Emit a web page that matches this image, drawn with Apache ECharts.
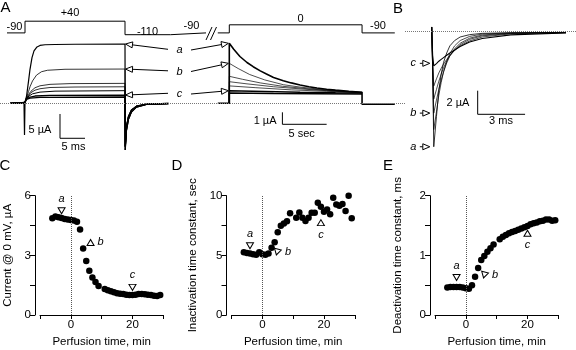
<!DOCTYPE html>
<html>
<head>
<meta charset="utf-8">
<script src="https://cdn.jsdelivr.net/npm/echarts@6/dist/echarts.min.js"></script>
<style>
  html, body { margin: 0; padding: 0; background: #fff; }
  #chart { width: 576px; height: 350px; }
</style>
</head>
<body>
<div id="chart"></div>
<script>
var FONT = '"Liberation Sans", Arial, Helvetica, sans-serif'

// ---------- panels C, D, E : values vs perfusion time (min)
var perfTime = [-6, -5, -4, -3, -2, -1, 0, 1, 2, 3, 4, 5, 6, 7, 8, 9, 11, 12, 13, 14, 15, 16, 17, 18, 19, 20, 21, 22, 23, 24, 25, 26, 27, 28, 29]
var currentC = [4.86, 4.95, 4.92, 4.88, 4.83, 4.8, 4.78, 4.75, 4.69, 4.3, 3.35, 2.71, 2.23, 1.88, 1.66, 1.46, 1.31, 1.25, 1.2, 1.15, 1.1, 1.07, 1.05, 1.02, 1.0, 1.0, 1.02, 1.05, 1.05, 1.04, 1.02, 1.0, 0.97, 0.95, 1.0]
var tauInactD = [5.25, 5.2, 5.15, 5.1, 5.05, 5.25, 5.1, 5.05, 5.15, 5.64, 6.09, 6.93, 7.49, 7.68, 7.85, 8.52, 8.16, 8.6, 8.16, 7.88, 8.16, 8.58, 8.58, 9.41, 9.08, 8.66, 8.85, 8.44, 9.83, 9.27, 9.16, 9.3, 8.72, 10.0, 8.1]
var tauDeactE = [0.46, 0.47, 0.47, 0.47, 0.47, 0.46, 0.45, 0.44, 0.5, 0.64, 0.79, 0.92, 0.99, 1.06, 1.12, 1.18, 1.27, 1.31, 1.34, 1.37, 1.39, 1.41, 1.43, 1.45, 1.47, 1.49, 1.52, 1.54, 1.55, 1.57, 1.58, 1.6, 1.6, 1.58, 1.59]

// open triangles marking the traces a, b, c
var markNames = ['a', 'b', 'c']
var markC = [[-3, 5.24], [6.4, 3.65], [20, 1.39]]
var markD = [[-4, 5.8], [4.8, 5.28], [19, 7.74]]
var markE = [[-3, 0.63], [6, 0.67], [20, 1.37]]

var xTickLabels = [0, 20]
var yTickLabelsC = [0, 3, 6]
var yTickLabelsD = [0, 5, 10]
var yTickLabelsE = [0, 1, 2]

// ---------- panel A, first part: time (ms), current (uA)
var riseA1a = [[-3, 0], [-0.2, 0], [-0.1, -6.5], [0, 0.3], [0.3, 1.4], [0.7, 4.5], [1, 7.0], [1.4, 9.4], [1.8, 10.8], [2.4, 11.6], [3, 11.9], [4, 12.05], [6, 12.1], [10, 12.15], [20, 12.2]]
var riseA1b = [[-3, 0], [0, 0.2], [0.3, 1.2], [0.7, 2.4], [1, 3.4], [1.5, 4.6], [2.3, 5.8], [3.3, 6.5], [4.5, 6.8], [8, 7.0], [20, 7.05]]
var riseA1d = [[-3, 0], [0, 0.2], [0.3, 1.1], [0.7, 1.8], [1.2, 2.5], [2, 3.2], [3, 3.6], [5, 3.9], [9, 4.05], [20, 4.1]]
var riseA1e = [[-3, 0], [0, 0.2], [0.3, 1.0], [0.7, 1.6], [1.2, 2.2], [2, 2.7], [3, 3.0], [5, 3.25], [10, 3.35], [20, 3.4]]
var riseA1f = [[-3, 0], [0, 0.2], [0.3, 1.0], [0.8, 1.5], [1.5, 1.95], [3, 2.3], [6, 2.5], [20, 2.6]]
var riseA1c = [[-3, 0], [0, 0.2], [0.3, 0.9], [0.8, 1.2], [2, 1.5], [5, 1.65], [20, 1.7]]
var riseA1g = [[-3, 0], [0, 0.2], [0.3, 0.8], [1, 1.05], [3, 1.22], [20, 1.3]]
var tailDeep = [[20.05, -9.6], [20.3, -5.6], [20.7, -3.3], [21.3, -1.8], [22.3, -0.8], [24.3, -0.25], [28.7, -0.05]]
var tailShallow = [[20.05, -8.9], [20.3, -4.8], [20.7, -2.7], [21.3, -1.4], [22.3, -0.6], [24.3, -0.18], [28.7, -0.04]]

// ---------- panel A, second part: time (s), current (uA)
var decayA2a = [[-1.3, 0], [0, 0], [0, 5.0], [0.5, 4.5], [1.2, 3.9], [2, 3.4], [2.7, 3.05], [3.5, 2.7], [4.2, 2.44], [5, 2.15], [6.1, 1.88], [7, 1.7], [8, 1.53], [9, 1.38], [9.9, 1.27], [11, 1.17], [12, 1.1], [13.5, 1.0], [15, 0.92], [15, -0.08], [18.7, -0.08]]
var decayA2b = [[0, 0], [0, 3.33], [1, 2.9], [2.3, 2.4], [4, 1.95], [6.1, 1.55], [8, 1.35], [9.9, 1.2], [12, 1.05], [15, 0.92]]
var decayA2d = [[0, 0], [0, 2.25], [1.5, 2.0], [3.5, 1.7], [6, 1.42], [9, 1.2], [12, 1.03], [15, 0.9]]
var decayA2e = [[0, 0], [0, 1.8], [2, 1.62], [5, 1.38], [8, 1.2], [11, 1.05], [15, 0.9]]
var decayA2f = [[0, 0], [0, 1.45], [3, 1.3], [7, 1.12], [11, 1.0], [15, 0.88]]
var decayA2c = [[0, 0], [0, 1.05], [4, 0.98], [8, 0.92], [12, 0.87], [15, 0.85]]
var decayA2g = [[0, 0], [0, 0.85], [5, 0.82], [10, 0.8], [15, 0.78]]

// ---------- voltage protocol (mV)
var protoA1 = [[-3.6, -90], [0, -90], [0, 40], [20, 40], [20, -110], [29.1, -110], [29.1, -90], [36.2, -90]]
var protoA2 = [[-1.3, -90], [0, -90], [0, 0], [15, 0], [15, -90], [18.7, -90]]

// ---------- panel B: tail currents, time (ms), current (uA)
var tailBa = [[0, 0.4], [0.06, -3], [0.13, -9.75], [0.3, -7.2], [0.45, -5.0], [0.6, -3.6], [0.75, -2.6], [0.95, -1.8], [1.15, -1.2], [1.45, -0.75], [1.8, -0.45], [2.4, -0.25], [3.2, -0.14], [5, -0.09], [8.5, -0.06]]
var tailBd = [[0, 0.4], [0.06, -3], [0.13, -8.3], [0.3, -6.8], [0.45, -5.4], [0.6, -4.3], [0.75, -3.4], [0.95, -2.5], [1.15, -1.85], [1.45, -1.2], [1.8, -0.75], [2.4, -0.4], [3.2, -0.2], [5, -0.1], [8.5, -0.07]]
var tailBb = [[0, 0.4], [0.06, -3], [0.13, -6.9], [0.3, -5.8], [0.45, -4.9], [0.6, -4.1], [0.75, -3.4], [0.95, -2.65], [1.15, -2.05], [1.45, -1.45], [1.8, -0.98], [2.4, -0.55], [3.2, -0.28], [5, -0.12], [8.5, -0.07]]
var tailBe = [[0, 0.4], [0.06, -3], [0.13, -5.7], [0.3, -4.9], [0.45, -4.2], [0.6, -3.6], [0.75, -3.05], [0.95, -2.5], [1.15, -2.05], [1.45, -1.55], [1.8, -1.1], [2.4, -0.65], [3.2, -0.35], [5, -0.15], [8.5, -0.07]]
var tailBf = [[0, 0.4], [0.06, -2.5], [0.13, -4.6], [0.3, -4.0], [0.45, -3.5], [0.6, -3.1], [0.75, -2.75], [0.95, -2.35], [1.15, -2.0], [1.45, -1.6], [1.8, -1.2], [2.4, -0.78], [3.2, -0.45], [5, -0.18], [8.5, -0.08]]
var tailBc = [[0, 0.4], [0.06, -2], [0.13, -2.9], [0.3, -2.7], [0.45, -2.5], [0.6, -2.35], [0.75, -2.2], [0.95, -2.0], [1.15, -1.8], [1.45, -1.55], [1.8, -1.25], [2.4, -0.88], [3.2, -0.58], [5, -0.27], [8.5, -0.1]]

// arrow targets (current levels of a, b, c)
var levelA1 = [12.2, 7.05, 1.7]
var levelA2 = [5.0, 3.33, 1.05]
var levelB = [-9.75, -6.9, -2.68]

// scale bars: corner (x, y) and lengths, in data units
var barA1 = { x: 7, y: -7.2, dx: 5, dy: 5 }     // 5 ms, 5 uA
var barA2 = { x: 6, y: -1.75, dx: 5, dy: 1 }    // 5 sec, 1 uA
var barB = { x: 2.91, y: -7.0, dx: 3, dy: 2 }   // 3 ms, 2 uA

// pixel scale of the trace panels -> axis extents
function spanX(origin, ppu, left, width) {
  return { min: (left - origin) / ppu, max: (left + width - origin) / ppu }
}
function spanY(origin, ppu, top, height) {
  return { min: (origin - top - height) / ppu, max: (origin - top) / ppu }
}
function hiddenAxis(grid, s) {
  return { type: 'value', gridIndex: grid, show: false, min: s.min, max: s.max }
}

var xA1 = spanX(25, 5, 0, 212)
var xA2 = spanX(229.3, 8.85, 212, 193)
var xB = spanX(431.7, 15.8, 405, 171)
var yA1 = spanY(103.3, 4.86, 0, 160)
var yA2 = spanY(103.3, 12, 0, 160)
var yV = spanY(24.8, 0.09, 0, 160)
var yB = spanY(31.7, 11.8, 0, 160)

function trace(xi, yi, pts, w) {
  return {
    type: 'line', xAxisIndex: xi, yAxisIndex: yi, data: pts,
    symbol: 'none', showSymbol: false, silent: true, clip: false,
    lineStyle: { color: '#000', width: w }
  }
}
function bar(xi, yi, b) {
  return trace(xi, yi, [[b.x, b.y + b.dy], [b.x, b.y], [b.x + b.dx, b.y]], 1)
}
var zeroLine = {
  silent: true, symbol: ['none', 'none'], label: { show: false },
  lineStyle: { type: 'dotted', color: '#777', width: 1 },
  data: [{ yAxis: 0 }]
}

function valueAxis(grid, o) {
  return Object.assign({
    type: 'value', gridIndex: grid,
    axisLine: { show: true, onZero: false, lineStyle: { color: '#000', width: 1 } },
    axisTick: { show: true, length: 4, lineStyle: { color: '#000', width: 1 } },
    splitLine: { show: false },
    nameLocation: 'middle',
    nameTextStyle: { color: '#000', fontFamily: FONT, fontSize: 11.5 }
  }, o)
}
function perfX(grid) {
  return valueAxis(grid, {
    min: -10, max: 30, interval: 10,
    name: 'Perfusion time, min', nameGap: 21,
    axisLabel: {
      color: '#000', fontFamily: FONT, fontSize: 11.5, margin: 4,
      formatter: function (v) { return xTickLabels.indexOf(v) >= 0 ? String(v) : '' }
    }
  })
}
function measY(grid, max, step, labels, name, gap) {
  return valueAxis(grid, {
    min: 0, max: max, interval: step, offset: 5,
    name: name, nameGap: gap,
    axisTick: { show: true, length: 5, lineStyle: { color: '#000', width: 1 } },
    axisLabel: {
      color: '#000', fontFamily: FONT, fontSize: 11.5, margin: 4,
      showMinLabel: true, showMaxLabel: true,
      formatter: function (v) { return labels.indexOf(v) >= 0 ? String(v) : '' }
    }
  })
}

function dots(xi, yi, vals) {
  return {
    type: 'scatter', xAxisIndex: xi, yAxisIndex: yi, silent: true,
    symbol: 'circle', symbolSize: 6.5, itemStyle: { color: '#000', opacity: 1 },
    data: perfTime.map(function (t, i) { return [t, vals[i]] }),
    markLine: {
      silent: true, symbol: ['none', 'none'], label: { show: false },
      lineStyle: { type: 'dotted', color: '#555', width: 1 },
      data: [{ xAxis: 0 }]
    }
  }
}
function marks(xi, yi, pts, rot, pos) {
  return {
    type: 'scatter', xAxisIndex: xi, yAxisIndex: yi, silent: true, z: 5,
    symbol: 'triangle', symbolSize: [7, 6],
    itemStyle: { color: '#fff', borderColor: '#000', borderWidth: 1, opacity: 1 },
    data: pts.map(function (p, i) {
      return {
        value: p, symbolRotate: rot[i],
        label: {
          show: true, position: pos[i], distance: 3, formatter: markNames[i],
          color: '#000', fontFamily: FONT, fontSize: 11, fontStyle: 'italic'
        }
      }
    })
  }
}

var option = {
  animation: false,
  backgroundColor: '#fff',
  grid: [
    { left: 0, top: 0, width: 212, height: 160 },
    { left: 212, top: 0, width: 193, height: 160 },
    { left: 405, top: 0, width: 171, height: 160 },
    { left: 40, top: 195.7, width: 123.3, height: 119.3 },
    { left: 231.5, top: 195.7, width: 123.3, height: 119.3 },
    { left: 435, top: 195.7, width: 123.3, height: 119.3 }
  ],
  xAxis: [
    hiddenAxis(0, xA1), hiddenAxis(1, xA2), hiddenAxis(2, xB),
    perfX(3), perfX(4), perfX(5)
  ],
  yAxis: [
    hiddenAxis(0, yA1), hiddenAxis(0, yV),
    hiddenAxis(1, yA2), hiddenAxis(1, yV),
    hiddenAxis(2, yB),
    measY(3, 6, 1.5, yTickLabelsC, 'Current @ 0 mV, \u00b5A', 21),
    measY(4, 10, 2.5, yTickLabelsD, 'Inactivation time constant, sec', 28),
    measY(5, 2, 0.5, yTickLabelsE, 'Deactivation time constant, ms', 26)
  ],
  series: [
    // protocol
    trace(0, 1, protoA1, 1), trace(1, 3, protoA2, 1),
    // A, first part
    Object.assign(trace(0, 0, riseA1a.concat(tailDeep), 1.2), { markLine: zeroLine }),
    trace(0, 0, riseA1b.concat(tailDeep), 0.8),
    trace(0, 0, riseA1d.concat(tailDeep), 0.8),
    trace(0, 0, riseA1e.concat(tailShallow), 0.8),
    trace(0, 0, riseA1f.concat(tailShallow), 1),
    trace(0, 0, riseA1c.concat(tailShallow), 1.3),
    trace(0, 0, riseA1g.concat(tailShallow), 1.3),
    bar(0, 0, barA1),
    // A, second part
    Object.assign(trace(1, 2, decayA2a, 1.6), { markLine: zeroLine }),
    trace(1, 2, decayA2b, 0.7),
    trace(1, 2, decayA2d, 0.7),
    trace(1, 2, decayA2e, 0.7),
    trace(1, 2, decayA2f, 0.7),
    trace(1, 2, decayA2c, 1.5),
    trace(1, 2, decayA2g, 1.5),
    bar(1, 2, barA2),
    // B
    Object.assign(trace(2, 4, tailBa, 0.8), { markLine: zeroLine }),
    trace(2, 4, tailBd, 0.7),
    trace(2, 4, tailBb, 0.7),
    trace(2, 4, tailBe, 0.7),
    trace(2, 4, tailBf, 0.7),
    trace(2, 4, tailBc, 1.1),
    bar(2, 4, barB),
    // C, D, E
    dots(3, 5, currentC), marks(3, 5, markC, [180, 0, 180], ['top', 'right', 'top']),
    dots(4, 6, tauInactD), marks(4, 6, markD, [180, 165, 0], ['top', 'right', 'bottom']),
    dots(5, 7, tauDeactE), marks(5, 7, markE, [180, 165, 0], ['top', 'right', 'bottom'])
  ]
}

var chart = echarts.init(document.getElementById('chart'))
chart.setOption(option)

// ---------- annotations placed from the axes
function px(xi, yi, p) { return chart.convertToPixel({ xAxisIndex: xi, yAxisIndex: yi }, p) }
function txt(x, y, s, font) {
  return {
    type: 'text', x: x, y: y, silent: true, z: 100,
    style: {
      text: s, fill: '#000', font: font || ('11px ' + FONT),
      align: 'center', verticalAlign: 'middle', textAlign: 'center', textVerticalAlign: 'middle'
    }
  }
}
function line(x1, y1, x2, y2) {
  return { type: 'line', silent: true, z: 100, shape: { x1: x1, y1: y1, x2: x2, y2: y2 }, style: { stroke: '#000', lineWidth: 1 } }
}
function arrow(from, tip) {
  var dx = tip[0] - from[0], dy = tip[1] - from[1], L = Math.sqrt(dx * dx + dy * dy)
  dx /= L; dy /= L
  var bx = tip[0] - dx * 7, by = tip[1] - dy * 7
  return [
    line(from[0], from[1], bx, by),
    {
      type: 'polygon', silent: true, z: 100,
      shape: { points: [tip, [bx - dy * 3, by + dx * 3], [bx + dy * 3, by - dx * 3]] },
      style: { fill: '#fff', stroke: '#000', lineWidth: 1 }
    }
  ]
}

var ital = 'italic 11px ' + FONT
var g = []
var big = '15px ' + FONT
g.push(txt(5.5, 8, 'A', big), txt(398, 8.5, 'B', big), txt(5, 166, 'C', big), txt(177, 166, 'D', big), txt(388, 166, 'E', big))

// protocol labels and break
g.push(txt(14.5, 27, '-90'), txt(70, 13, '+40'), txt(147.5, 31.5, '-110'), txt(191.5, 26, '-90'), txt(300.5, 18.5, '0'), txt(378, 26, '-90'))
g.push(line(206, 40, 212, 27), line(210.5, 40, 216.5, 27))

// a, b, c arrows in A and B
var labY = [50, 71.5, 94]
for (var i = 0; i < 3; i++) {
  g.push(txt(179.5, labY[i], markNames[i], ital))
  var tl = px(0, 0, [20.1, levelA1[i]])
  var tr = px(1, 2, [-0.1, levelA2[i]])
  g = g.concat(arrow([168, labY[i] - 0.7], tl), arrow([191, labY[i]], tr))
  var tb = px(2, 4, [-0.12, levelB[i]])
  g = g.concat(arrow([tb[0] - 10, tb[1]], tb))
  g.push(txt(tb[0] - 16.5, tb[1], markNames[i], ital))
}

// scale bar labels
var c1 = px(0, 0, [barA1.x, barA1.y])
g.push(txt(c1[0] - 20, c1[1] - 8.3, '5 \u00b5A'), txt(c1[0] + 13.5, c1[1] + 8.7, '5 ms'))
var c2 = px(1, 2, [barA2.x, barA2.y])
g.push(txt(c2[0] - 17.3, c2[1] - 3.3, '1 \u00b5A'), txt(c2[0] + 19.2, c2[1] + 9.7, '5 sec'))
var c3 = px(2, 4, [barB.x, barB.y])
g.push(txt(c3[0] - 19.7, c3[1] - 11.8, '2 \u00b5A'), txt(c3[0] + 23.3, c3[1] + 6.7, '3 ms'))

chart.setOption({ graphic: g })
</script>
</body>
</html>
